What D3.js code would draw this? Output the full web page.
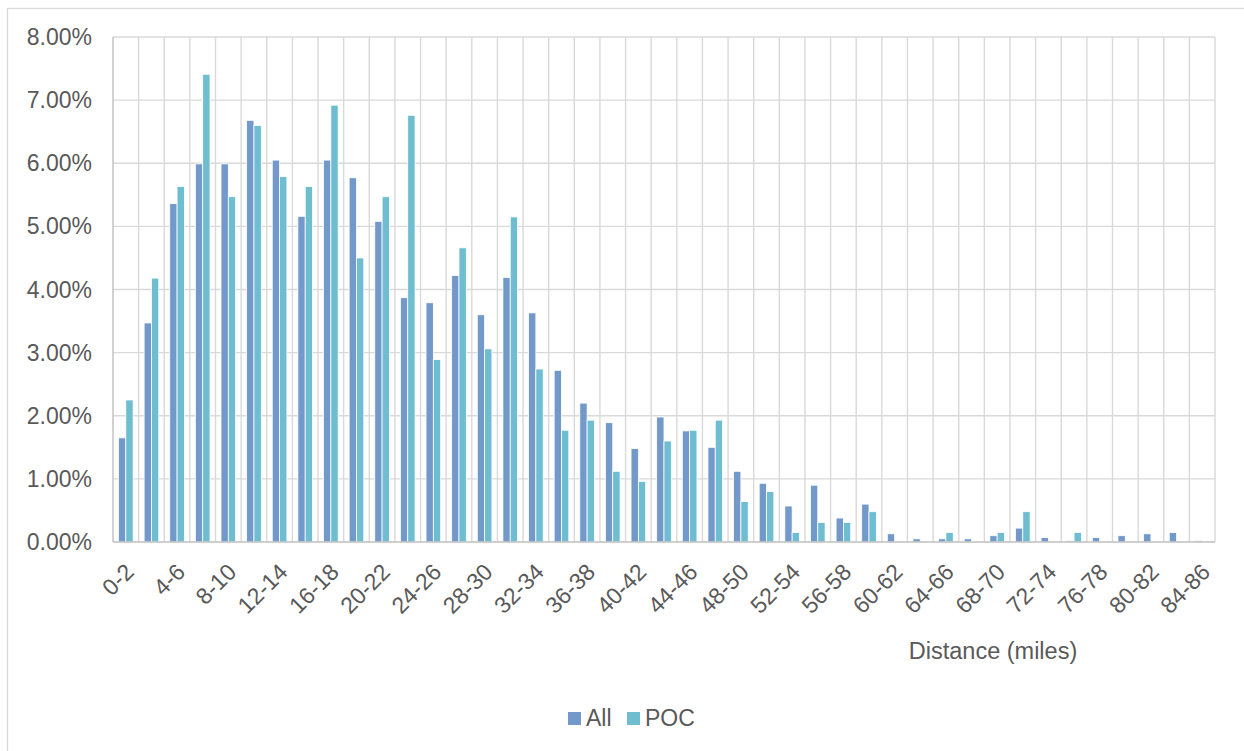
<!DOCTYPE html>
<html>
<head>
<meta charset="utf-8">
<script src="https://cdn.jsdelivr.net/npm/d3@7"></script>
<style>
  html, body { margin: 0; padding: 0; background: #fff; }
  svg { display: block; }
  text { font-family: "Liberation Sans", Arial, sans-serif; fill: #595959; }
</style>
</head>
<body>
<svg id="chart" width="1244" height="751"></svg>
<script>
const categories = ["0-2","2-4","4-6","6-8","8-10","10-12","12-14","14-16","16-18","18-20",
  "20-22","22-24","24-26","26-28","28-30","30-32","32-34","34-36","36-38","38-40",
  "40-42","42-44","44-46","46-48","48-50","50-52","52-54","54-56","56-58","58-60",
  "60-62","62-64","64-66","66-68","68-70","70-72","72-74","74-76","76-78","78-80",
  "80-82","82-84","84-86"];
const seriesNames = ["All", "POC"];
const allValues = [1.65,3.47,5.36,5.99,5.99,6.68,6.05,5.16,6.05,5.77,
  5.08,3.87,3.79,4.22,3.60,4.19,3.63,2.72,2.20,1.89,
  1.48,1.98,1.76,1.50,1.12,0.93,0.57,0.90,0.38,0.60,
  0.13,0.05,0.05,0.05,0.10,0.22,0.07,0.02,0.07,0.10,
  0.13,0.15,0.02];
const pocValues = [2.25,4.18,5.63,7.41,5.47,6.60,5.79,5.63,6.92,4.50,
  5.47,6.76,2.89,4.66,3.06,5.15,2.74,1.77,1.93,1.12,
  0.96,1.60,1.77,1.93,0.64,0.80,0.15,0.31,0.31,0.48,
  0,0,0.15,0,0.15,0.48,0,0.15,0,0,
  0,0,0];
const yTicks = [0,1,2,3,4,5,6,7,8];
const colors = {All: "#7399CB", POC: "#6EBDD1"};

const svg = d3.select("#chart");
const W = 1244, H = 751;
const plot = {left: 113, right: 1215, top: 37, bottom: 542};

svg.append("rect").attr("x", 0).attr("y", 0).attr("width", W).attr("height", H).attr("fill", "#fff");
svg.append("rect").attr("x", 7.5).attr("y", 8.5).attr("width", W).attr("height", H)
  .attr("fill", "none").attr("stroke", "#D9D9D9").attr("stroke-width", 1.3);

const x = d3.scaleBand().domain(categories).range([plot.left, plot.right]).paddingInner(0).paddingOuter(0);
const bw = x.bandwidth();
const barW = bw / 3.5;
const xs = d3.scaleBand().domain(seriesNames).range([0.75 * barW, bw - 0.75 * barW]).padding(0);
const y = d3.scaleLinear().domain([0, 8]).range([plot.bottom, plot.top]);

// horizontal gridlines
svg.append("g").selectAll("line").data(yTicks.filter(d => d > 0)).join("line")
  .attr("x1", plot.left).attr("x2", plot.right)
  .attr("y1", d => y(d)).attr("y2", d => y(d))
  .attr("stroke", "#D9D9D9").attr("stroke-width", 1.4);
// vertical gridlines at category boundaries
const bounds = categories.map(c => x(c)).concat([plot.right]);
svg.append("g").selectAll("line").data(bounds.slice(1)).join("line")
  .attr("x1", d => d).attr("x2", d => d)
  .attr("y1", plot.top).attr("y2", plot.bottom)
  .attr("stroke", "#D9D9D9").attr("stroke-width", 1.4);

// bars
const data = categories.map((c, i) => ({cat: c, All: allValues[i], POC: pocValues[i]}));
const groups = svg.append("g").selectAll("g").data(data).join("g")
  .attr("transform", d => `translate(${x(d.cat)},0)`);
groups.selectAll("rect").data(d => seriesNames.map(s => ({s, v: d[s]}))).join("rect")
  .filter(d => d.v > 0)
  .attr("x", d => xs(d.s)).attr("width", xs.bandwidth())
  .attr("y", d => y(d.v)).attr("height", d => y(0) - y(d.v))
  .attr("fill", d => colors[d.s]).attr("stroke", "#fff").attr("stroke-width", 0.8);

// axis lines
svg.append("line").attr("x1", plot.left).attr("x2", plot.left).attr("y1", plot.top).attr("y2", plot.bottom)
  .attr("stroke", "#BFBFBF").attr("stroke-width", 1.4);
svg.append("line").attr("x1", plot.left).attr("x2", plot.right).attr("y1", plot.bottom).attr("y2", plot.bottom)
  .attr("stroke", "#BFBFBF").attr("stroke-width", 1.4);

// y tick labels
const fmt = d3.format(".2%");
svg.append("g").selectAll("text").data(yTicks).join("text")
  .attr("x", 92).attr("y", d => y(d)).attr("dy", "0.35em")
  .attr("text-anchor", "end").attr("font-size", 23)
  .text(d => fmt(d / 100));

// x tick labels (every other)
svg.append("g").selectAll("text").data(categories.filter((c, i) => i % 2 === 0)).join("text")
  .attr("text-anchor", "end").attr("font-size", 23)
  .attr("transform", c => `translate(${x(c) + bw / 2 - 2},${plot.bottom + 20}) rotate(-45)`)
  .attr("dy", "0.7em")
  .text(c => c);

// axis title
svg.append("text").attr("x", 993).attr("y", 659).attr("text-anchor", "middle")
  .attr("font-size", 23.5).text("Distance (miles)");

// legend
const legend = svg.append("g");
const legendItems = [{s: "All", x: 568}, {s: "POC", x: 627}];
legend.selectAll("rect").data(legendItems).join("rect")
  .attr("x", d => d.x).attr("y", 712).attr("width", 13).attr("height", 13)
  .attr("fill", d => colors[d.s]);
legend.selectAll("text").data(legendItems).join("text")
  .attr("x", d => d.x + 18).attr("y", 726).attr("font-size", 23)
  .text(d => d.s);
</script>
</body>
</html>
